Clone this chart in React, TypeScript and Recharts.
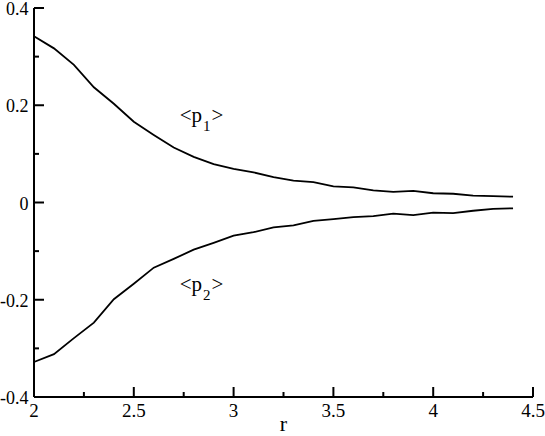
import React from 'react';
import { LineChart, Line, XAxis, YAxis, ReferenceDot } from 'recharts';

// r values and the two averages
const R = [2.0, 2.1, 2.2, 2.3, 2.4, 2.5, 2.6, 2.7, 2.8, 2.9, 3.0, 3.1, 3.2, 3.3, 3.4, 3.5, 3.6, 3.7, 3.8, 3.9, 4.0, 4.1, 4.2, 4.3, 4.4];
const P1 = [0.342, 0.317, 0.283, 0.237, 0.203, 0.166, 0.139, 0.113, 0.094, 0.079, 0.069, 0.062, 0.052, 0.045, 0.042, 0.033, 0.031, 0.025, 0.022, 0.024, 0.019, 0.018, 0.014, 0.013, 0.012];
const P2 = [-0.328, -0.312, -0.279, -0.247, -0.199, -0.167, -0.134, -0.116, -0.097, -0.083, -0.068, -0.061, -0.051, -0.047, -0.038, -0.034, -0.030, -0.028, -0.023, -0.026, -0.021, -0.022, -0.017, -0.013, -0.012];

const X_TICKS = [2, 2.25, 2.5, 2.75, 3, 3.25, 3.5, 3.75, 4, 4.25, 4.5];
const Y_TICKS = [-0.4, -0.3, -0.2, -0.1, 0, 0.1, 0.2, 0.3, 0.4];

// curve labels, anchored at the start of their baseline
const LABELS = [
  { r: 2.73, v: 0.166, sub: '1' },
  { r: 2.73, v: -0.182, sub: '2' },
];

const FONT = 'Liberation Serif, Times New Roman, Times, serif';
const txt = { fontFamily: FONT };

const data = R.map((r, i) => ({ r, p1: P1[i], p2: P2[i] }));

const isMajorX = (v: number) => Math.abs(v * 2 - Math.round(v * 2)) < 1e-6;
const isMajorY = (v: number) => Math.abs(v * 5 - Math.round(v * 5)) < 1e-6;

const BottomTick = (props: any) => {
  const { x, y, payload } = props;
  const major = isMajorX(payload.value);
  return (
    <g>
      <line x1={x} x2={x} y1={y} y2={y - (major ? 10 : 5)} stroke="#000" strokeWidth={2} />
      {major && (
        <text x={x} y={y + 20} textAnchor="middle" fontSize={19} style={txt} fill="#000">
          {String(payload.value)}
        </text>
      )}
    </g>
  );
};

const TopTick = (props: any) => {
  const { x, y, payload } = props;
  const major = isMajorX(payload.value);
  return <line x1={x} x2={x} y1={y} y2={y + (major ? 10 : 5)} stroke="#000" strokeWidth={2} />;
};

const LeftTick = (props: any) => {
  const { x, y, payload } = props;
  const major = isMajorY(payload.value);
  return (
    <g>
      <line x1={x} x2={x + (major ? 10 : 5)} y1={y} y2={y} stroke="#000" strokeWidth={2} />
      {major && (
        <text x={x - 5.5} y={y + 7} textAnchor="end" fontSize={18} style={txt} fill="#000">
          {String(payload.value)}
        </text>
      )}
    </g>
  );
};

const RightTick = (props: any) => {
  const { x, y, payload } = props;
  const major = isMajorY(payload.value);
  return <line x1={x} x2={x - (major ? 10 : 5)} y1={y} y2={y} stroke="#000" strokeWidth={2} />;
};

const makeLabel = (sub: string) => (props: any) => {
  const { cx, cy } = props;
  return (
    <text x={cx} y={cy} fontSize={21} style={txt} fill="#000">
      {'<p'}
      <tspan fontSize={15} dx={1} dy={9}>{sub}</tspan>
      <tspan dx={1} dy={-9}>{'>'}</tspan>
    </text>
  );
};

export default function App() {
  return (
    <div style={{ position: 'absolute', left: 0, top: 0, width: 545, height: 436, background: '#fff', fontFamily: FONT }}>
      <LineChart width={545} height={436} data={data} margin={{ top: 8, right: 12, left: 0, bottom: 0 }} style={txt}>
        <XAxis
          dataKey="r"
          type="number"
          domain={[2, 4.5]}
          ticks={X_TICKS}
          interval={0}
          height={39}
          tickSize={0}
          tickMargin={0}
          tick={BottomTick}
          axisLine={{ stroke: '#000', strokeWidth: 2 }}
          label={{ value: 'r', position: 'insideBottom', offset: 5, fontSize: 22, style: txt, fill: '#000' }}
        />
        <XAxis
          xAxisId="top"
          orientation="top"
          dataKey="r"
          type="number"
          domain={[2, 4.5]}
          ticks={X_TICKS}
          interval={0}
          height={0}
          tickSize={0}
          tickMargin={0}
          tick={TopTick}
          axisLine={{ stroke: '#000', strokeWidth: 2 }}
        />
        <YAxis
          type="number"
          domain={[-0.4, 0.4]}
          ticks={Y_TICKS}
          interval={0}
          width={34}
          tickSize={0}
          tickMargin={0}
          tick={LeftTick}
          axisLine={{ stroke: '#000', strokeWidth: 2 }}
        />
        <YAxis
          yAxisId="right"
          orientation="right"
          type="number"
          domain={[-0.4, 0.4]}
          ticks={Y_TICKS}
          interval={0}
          width={0}
          tickSize={0}
          tickMargin={0}
          tick={RightTick}
          axisLine={{ stroke: '#000', strokeWidth: 2 }}
        />
        <Line type="linear" dataKey="p1" stroke="#000" strokeWidth={1.8} dot={false} isAnimationActive={false} />
        <Line type="linear" dataKey="p2" stroke="#000" strokeWidth={1.8} dot={false} isAnimationActive={false} />
        {LABELS.map((l) => (
          <ReferenceDot key={l.sub} x={l.r} y={l.v} r={0} shape={makeLabel(l.sub)} />
        ))}
      </LineChart>
    </div>
  );
}
